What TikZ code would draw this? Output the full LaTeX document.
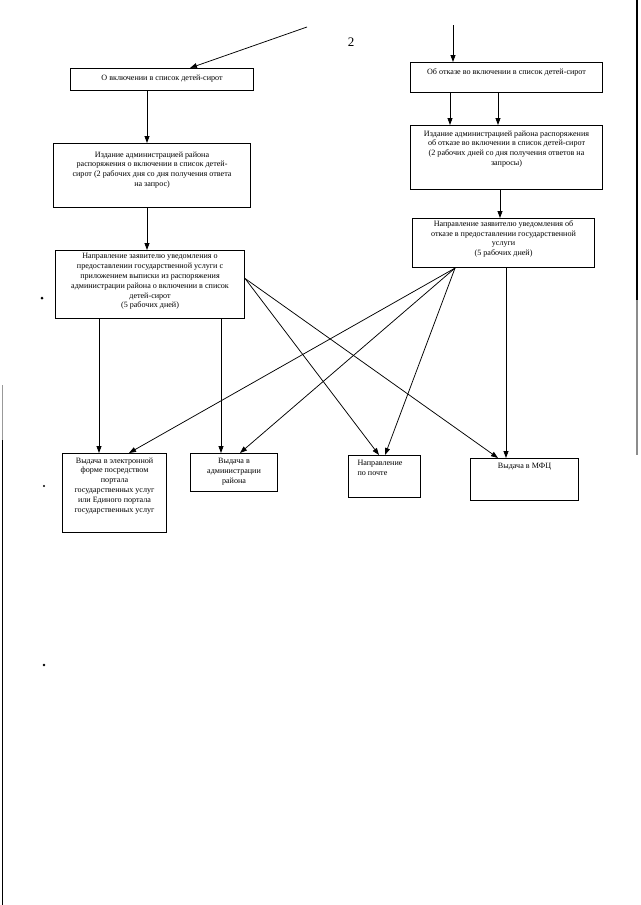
\documentclass[tikz,border=0pt]{standalone}
\usepackage{fontspec}
\setmainfont{Liberation Serif}
\usetikzlibrary{arrows.meta}
\newcommand\boxtxt[4]{\parbox[c][#2pt][t]{#1pt}{\centering\vspace*{#3pt}#4\par}}
\begin{document}
\begin{tikzpicture}[x=1pt,y=-1pt,
  box/.style={draw, line width=1.1pt, inner sep=0pt, anchor=north west},
  arr/.style={line width=0.75pt, -{Triangle[length=7pt,width=5pt]}},
  edge/.style={line width=1.4pt},
  font=\fontsize{8.1}{9.8}\selectfont]
\useasboundingbox (0,0) rectangle (640,905);
\fill[white] (0,0) rectangle (640,905);

% column coordinates
\coordinate (k99) at (99,0);
\coordinate (k128) at (129,0);
\coordinate (k147) at (147,0);
\coordinate (k190) at (190,0);
\coordinate (k221) at (221,0);
\coordinate (k240) at (240,0);
\coordinate (k380) at (379,0);
\coordinate (k385) at (385,0);
\coordinate (k450) at (450,0);
\coordinate (k453) at (453,0);
\coordinate (k455) at (455,0);
\coordinate (k498) at (498,0);
\coordinate (k500) at (500,0);
\coordinate (k506) at (506,0);

% boxes
\node[box] (b1) at (70,68) {\boxtxt{183}{22}{6}{О включении в список детей-сирот}};
\node[box] (l2) at (53,143) {\boxtxt{197}{64}{8}{Издание администрацией района\\ распоряжения о включении в список детей-\\ сирот (2 рабочих дня со дня получения ответа\\ на запрос)}};
\node[box] (l3) at (55,250) {\boxtxt{189}{68}{3}{Направление заявителю уведомления о\\ предоставлении государственной услуги с\\ приложением выписки из распоряжения\\ администрации района о включении в список\\ детей-сирот\\ (5 рабочих дней)}};
\node[box] (r1) at (410,62) {\boxtxt{192}{30}{6}{Об отказе во включении в список детей-сирот}};
\node[box] (r2) at (410,125) {\boxtxt{192}{64}{5}{Издание администрацией района распоряжения\\ об отказе во включении в список детей-сирот\\ (2 рабочих дней со дня получения ответов на\\ запросы)}};
\node[box] (r3) at (412,218) {\boxtxt{182}{49}{2}{Направление заявителю уведомления об\\ отказе в предоставлении государственной\\ услуги\\ (5 рабочих дней)}};
\node[box] (d1) at (62,453) {\boxtxt{104}{79}{4}{Выдача в электронной\\ форме посредством\\ портала\\ государственных услуг\\ или Единого портала\\ государственных услуг}};
\node[box] (d2) at (190,453) {\boxtxt{87}{38}{5}{Выдача в\\ администрации\\ района}};
\node[box] (d3) at (348,455) {\parbox[c][42pt][t]{72pt}{\raggedright\leftskip=9pt\vspace*{5pt}Направление\\ по почте\par}};
\node[box] (d4) at (470,458) {\boxtxt{108}{42}{5}{Выдача в МФЦ}};

\node[font=\fontsize{13}{15}\selectfont] (n2) at (351,42) {2};

% free start points
\coordinate (sA) at (307,27);
\coordinate (sB) at (453,25);

% arrows, top part
\draw[arr] (sA) -- (b1.north -| k190);
\draw[arr] (sB) -- (r1.north -| k453);
\draw[arr] (b1.south -| k147) -- (l2.north -| k147);
\draw[arr] (l2.south -| k147) -- (l3.north -| k147);
\draw[arr] (r1.south -| k450) -- (r2.north -| k450);
\draw[arr] (r1.south -| k498) -- (r2.north -| k498);
\draw[arr] (r2.south -| k500) -- (r3.north -| k500);

% arrows from L3
\draw[arr] (l3.south -| k99) -- (d1.north -| k99);
\draw[arr] (l3.south -| k221) -- (d2.north -| k221);
\draw[arr] ([yshift=6pt]l3.east) -- (d3.north -| k380);
\draw[arr] ([yshift=6pt]l3.east) -- (d4.north -| k498);

% arrows from R3
\draw[arr] (r3.south -| k455) -- (d1.north -| k128);
\draw[arr] (r3.south -| k455) -- (d2.north -| k240);
\draw[arr] (r3.south -| k455) -- (d3.north -| k385);
\draw[arr] (r3.south -| k506) -- (d4.north -| k506);

% scan edges and specks
\draw[edge] (637,0) -- (637,300);
\draw[edge, black!45] (637,300) -- (637,455);
\draw[line width=1pt, black!40] (2,385) -- (2,440);
\draw[line width=1pt] (2,440) -- (2,905);
\fill (42,298) circle (1.5);
\fill (44,486) circle (1.1);
\fill (44,665) circle (1.3);
\end{tikzpicture}
\end{document}
